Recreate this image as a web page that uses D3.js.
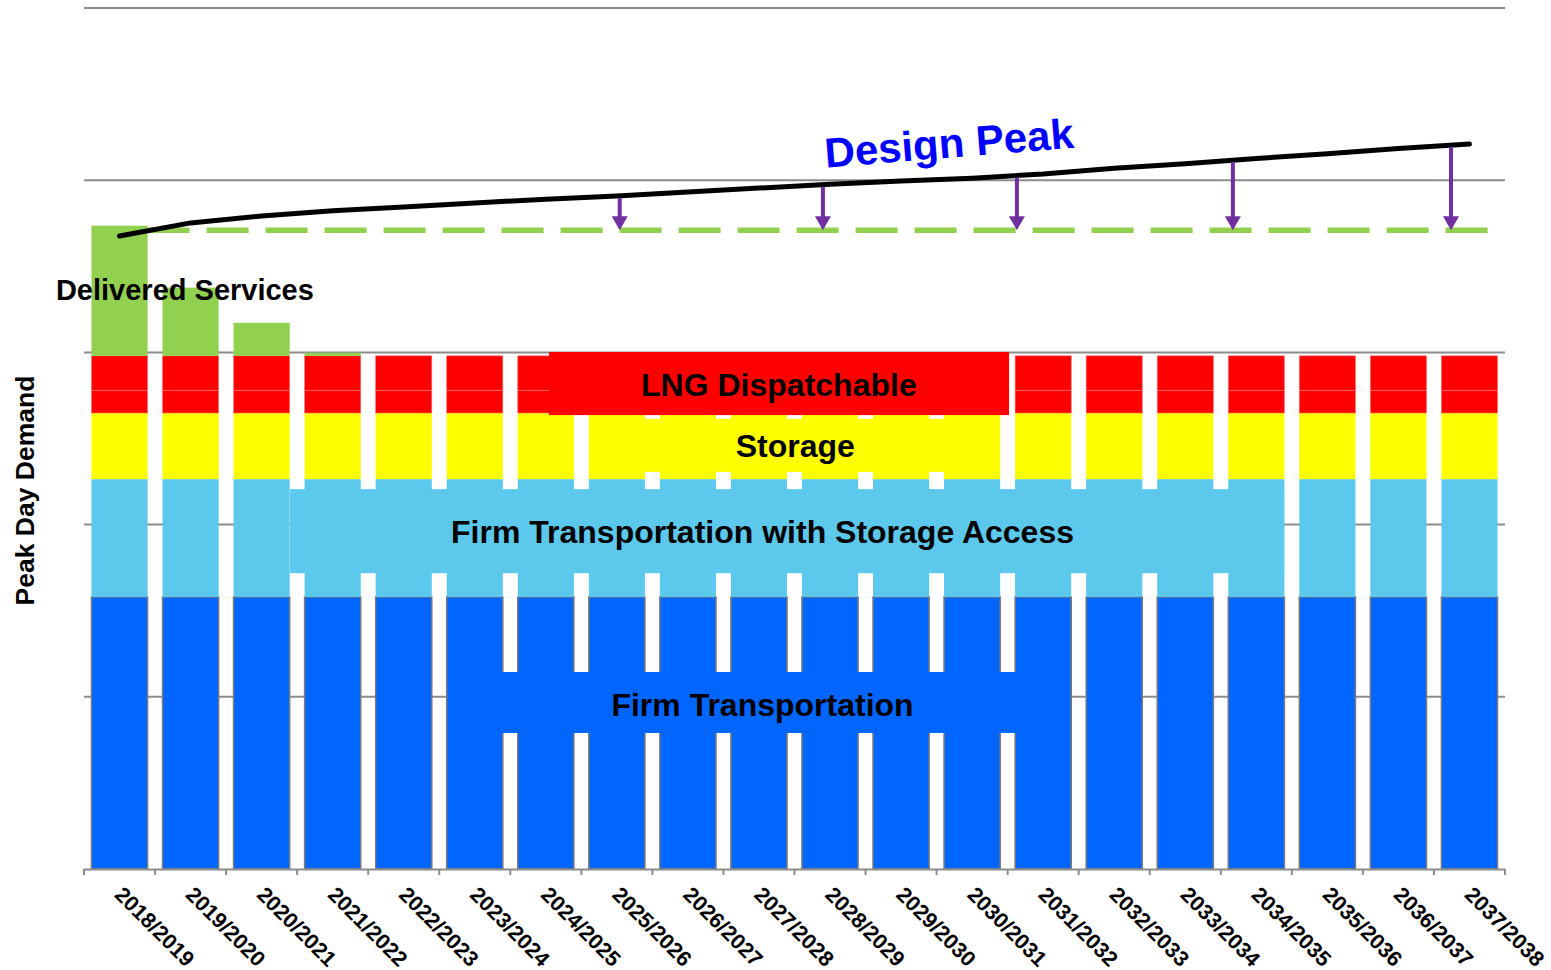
<!DOCTYPE html>
<html>
<head>
<meta charset="utf-8">
<script src="https://cdn.jsdelivr.net/npm/d3@7/dist/d3.min.js"></script>
<style>
  html, body { margin: 0; padding: 0; background: #fff; }
  svg { display: block; font-family: "Liberation Sans", Arial, sans-serif; }
</style>
</head>
<body>
<svg id="chart" width="1551" height="970"></svg>
<script>
// ---------- data ----------
const categories = ["2018/2019","2019/2020","2020/2021","2021/2022","2022/2023","2023/2024","2024/2025",
  "2025/2026","2026/2027","2027/2028","2028/2029","2029/2030","2030/2031","2031/2032","2032/2033",
  "2033/2034","2034/2035","2035/2036","2036/2037","2037/2038"];
const firmTransportation = [790,790,790,790,790,790,790,790,790,790,790,790,790,790,790,790,790,790,790,790];
const firmStorageAccess  = [342,342,342,342,342,342,342,342,342,342,342,342,342,342,342,342,342,342,342,342];
const storage            = [192,192,192,192,192,192,192,192,192,192,192,192,192,192,192,192,192,192,192,192];
const lngLower           = [66,66,66,66,66,66,66,66,66,66,66,66,66,66,66,66,66,66,66,66];
const lngUpper           = [100,100,100,100,100,100,100,100,100,100,100,100,100,100,100,100,100,100,100,100];
const deliveredServices  = [378,198,96,9,0,0,0,0,0,0,0,0,0,0,0,0,0,0,0,0];
const designPeak = [1838,1876,1896,1911,1922,1934,1945,1954,1966,1977,1988,1998,2006,2018,2035,2048,2063,2077,2092,2105];
const resourceLevel = 1855;              // dashed green line
const arrowIndex = [7.04, 9.9, 12.63, 15.67, 18.74]; // fractional category positions (centre-based) of purple arrows
const yTicks = [0,500,1000,1500,2000,2500];

const seriesKeys = ["ft","ftsa","storage","lngLower","lngUpper","ds"];
const colors = {ft:"#0066FF", ftsa:"#5BC8EC", storage:"#FFFF00", lngLower:"#FF0000", lngUpper:"#FF0000", ds:"#92D050"};

const table = categories.map((c,i)=>({cat:c, ft:firmTransportation[i], ftsa:firmStorageAccess[i], storage:storage[i],
  lngLower:lngLower[i], lngUpper:lngUpper[i], ds:deliveredServices[i]}));

(function(){
// ---------- layout ----------
const svg = d3.select("#chart");
const mLeft = 84, mRight = 1505, mTop = 8, mBottom = 869;
const x = d3.scaleBand().domain(categories).range([mLeft,mRight]).padding(0);
const xi = d3.scaleLinear().domain([0,categories.length]).range([mLeft,mRight]);
const y = d3.scaleLinear().domain([0,2500]).range([mBottom,mTop]);
const barW = x.bandwidth()*0.79;
const cx = c => x(c) + x.bandwidth()/2;

// gridlines
svg.append("g").selectAll("line").data(yTicks.slice(1)).join("line")
  .attr("x1",mLeft).attr("x2",mRight).attr("y1",d=>y(d)).attr("y2",d=>y(d))
  .attr("stroke","#8c8c8c").attr("stroke-width",2);

// stacked bars
const stack = d3.stack().keys(seriesKeys)(table);
const g = svg.append("g");
stack.forEach(layer=>{
  const k = layer.key;
  g.append("g").selectAll("rect").data(layer.filter(d=>d[1]-d[0]>0)).join("rect")
    .attr("x",d=>cx(d.data.cat)-barW/2).attr("width",barW)
    .attr("y",d=>y(d[1])).attr("height",d=>y(d[0])-y(d[1]))
    .attr("fill",colors[k])
    .attr("stroke", k==="ft" ? "#7a7a7a" : (k.startsWith("lng") ? "#ff7070" : "none"))
    .attr("stroke-width", k==="ft" ? 1.5 : 0.6);
});

// x axis line and boundary ticks
svg.append("line").attr("x1",mLeft).attr("x2",mRight).attr("y1",mBottom+0.5).attr("y2",mBottom+0.5)
  .attr("stroke","#8c8c8c").attr("stroke-width",2);
svg.append("g").selectAll("line").data(d3.range(categories.length+1)).join("line")
  .attr("x1",d=>xi(d)).attr("x2",d=>xi(d)).attr("y1",mBottom).attr("y2",mBottom+6)
  .attr("stroke","#8c8c8c").attr("stroke-width",2);

// x tick labels
svg.append("g").selectAll("text").data(categories).join("text")
  .attr("transform",d=>`translate(${cx(d)-6},${mBottom+27}) rotate(45)`)
  .attr("text-anchor","start").attr("font-size",21.5).attr("font-weight","bold").attr("fill","#000")
  .text(d=>d);

// y axis title
svg.append("text").attr("transform",`translate(34,${(377+604)/2}) rotate(-90)`)
  .attr("text-anchor","middle").attr("font-size",26.5).attr("font-weight","bold").text("Peak Day Demand");

// label boxes over bars
const boxes = [
  {x0:2.9,  x1:16.89, v0:859,  v1:1103, fill:colors.ftsa},
  {x0:5.855,x1:13.12, v0:395,  v1:572,  fill:colors.ft},
  {x0:7.108,x1:12.89, v0:1153, v1:1307, fill:colors.storage},
  {x0:6.545,x1:13.02, v0:1318, v1:1501, fill:colors.lngLower}
];
svg.append("g").selectAll("rect").data(boxes).join("rect")
  .attr("x",d=>xi(d.x0)).attr("width",d=>xi(d.x1)-xi(d.x0))
  .attr("y",d=>y(d.v1)).attr("height",d=>y(d.v0)-y(d.v1)).attr("fill",d=>d.fill);

const labels = [
  {t:"LNG Dispatchable", xi:9.78, v:1407, size:32},
  {t:"Storage", xi:10.01, v:1228, size:32},
  {t:"Firm Transportation with Storage Access", xi:9.55, v:980, size:32},
  {t:"Firm Transportation", xi:9.55, v:478, size:32},
  {t:"Delivered Services", xi:1.42, v:1681, size:29}
];
svg.append("g").selectAll("text").data(labels).join("text")
  .attr("x",d=>xi(d.xi)).attr("y",d=>y(d.v)).attr("dy","0.35em")
  .attr("text-anchor","middle").attr("font-size",d=>d.size).attr("font-weight","bold").attr("fill","#000")
  .text(d=>d.t);

// dashed resource line
svg.append("line").attr("x1",cx(categories[0])+barW/2).attr("x2",mRight-4)
  .attr("y1",y(resourceLevel)).attr("y2",y(resourceLevel))
  .attr("stroke","#92D050").attr("stroke-width",5.5).attr("stroke-dasharray","42 17");

// design peak line
const line = d3.line().x((d,i)=>cx(categories[i])).y(d=>y(d));
svg.append("path").datum(designPeak).attr("d",line).attr("fill","none")
  .attr("stroke","#000").attr("stroke-width",5).attr("stroke-linecap","round").attr("stroke-linejoin","round");

// arrows
const peakAt = t => {
  const i = Math.max(0,Math.min(designPeak.length-2,Math.floor(t)));
  const f = t - i; return designPeak[i] + (designPeak[i+1]-designPeak[i])*f;
};
const ag = svg.append("g");
arrowIndex.forEach(t=>{
  const xa = xi(t+0.5), y0 = y(peakAt(t))+2, y1 = y(resourceLevel);
  ag.append("line").attr("x1",xa).attr("x2",xa).attr("y1",y0).attr("y2",y1-12)
    .attr("stroke","#7030A0").attr("stroke-width",4);
  ag.append("path").attr("d",`M${xa-8},${y1-14} L${xa+8},${y1-14} L${xa},${y1} Z`).attr("fill","#7030A0");
});

// Design Peak title
svg.append("text").attr("transform",`translate(949,143) rotate(-4.6)`)
  .attr("text-anchor","middle").attr("dy","0.35em").attr("font-size",42).attr("font-weight","bold")
  .attr("fill","#0000FF").text("Design Peak");
})();
</script>
</body>
</html>
